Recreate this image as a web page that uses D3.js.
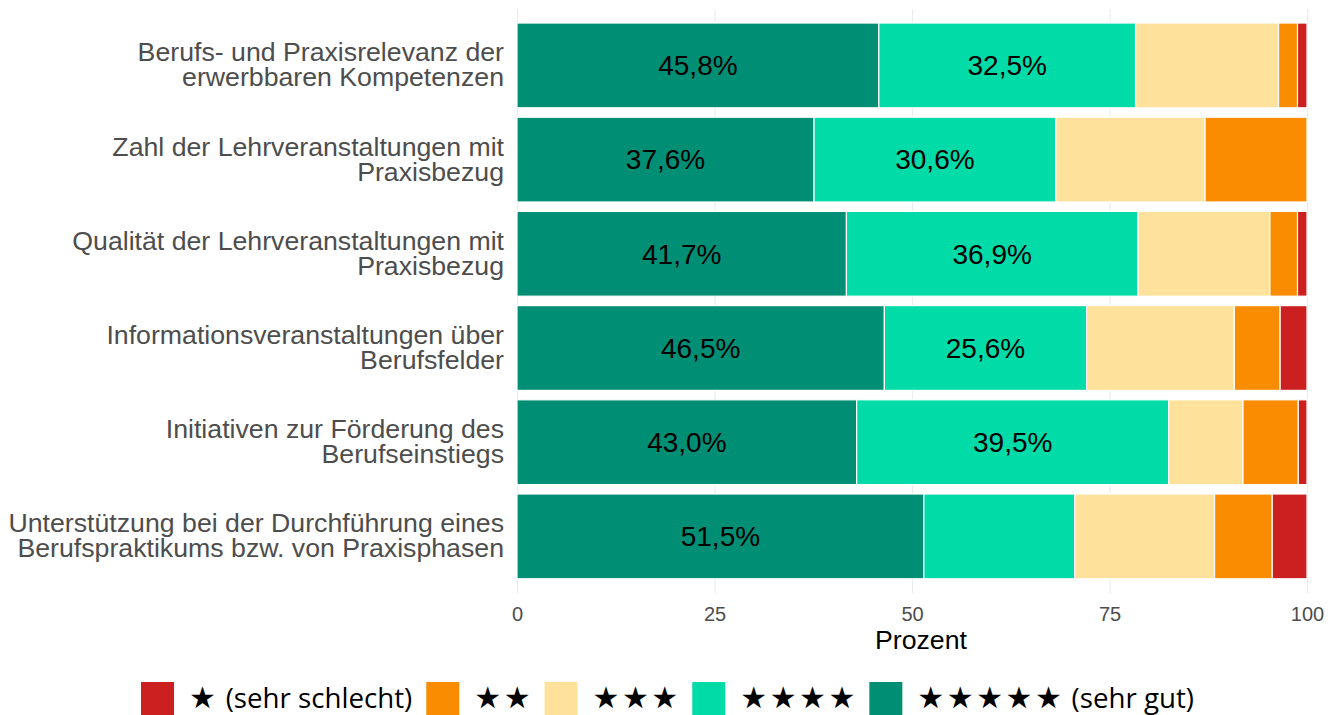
<!DOCTYPE html>
<html>
<head>
<meta charset="utf-8">
<script src="https://cdn.jsdelivr.net/npm/d3@7"></script>
<style>
  body { margin: 0; background: #fff; }
  svg { display: block; }
</style>
</head>
<body>
<div id="chart"></div>
<script>
// ---- data ----
const categories = [
  ['Berufs- und Praxisrelevanz der', 'erwerbbaren Kompetenzen'],
  ['Zahl der Lehrveranstaltungen mit', 'Praxisbezug'],
  ['Qualität der Lehrveranstaltungen mit', 'Praxisbezug'],
  ['Informationsveranstaltungen über', 'Berufsfelder'],
  ['Initiativen zur Förderung des', 'Berufseinstiegs'],
  ['Unterstützung bei der Durchführung eines', 'Berufspraktikums bzw. von Praxisphasen']
];
const star5 = [45.8, 37.6, 41.7, 46.5, 43.0, 51.5];
const star4 = [32.5, 30.6, 36.9, 25.6, 39.5, 19.1];
const star3 = [18.1, 18.9, 16.7, 18.7, 9.4, 17.7];
const star2 = [2.4, 12.9, 3.5, 5.8, 7.0, 7.3];
const star1 = [1.2, 0.0, 1.2, 3.4, 1.1, 4.4];
const xTicks = [0, 25, 50, 75, 100];
const legendStars = ['★', '★★', '★★★', '★★★★', '★★★★★'];
const legendNotes = [' (sehr schlecht)', '', '', '', ' (sehr gut)'];
const seriesColors = ['#cc1f1f', '#f98c00', '#fee29b', '#00dba8', '#008f74'];

// ---- layout ----
const W = 1328, H = 715;
const plot = { left: 517, right: 1307, top: 8.9, bottom: 592.9 };
const labelFont = 'Liberation Sans, Arial, sans-serif';

const svg = d3.select('#chart').append('svg')
  .attr('width', W).attr('height', H);

const keys = categories.map((c, i) => i);
// segments stacked from left: 5 stars, 4, 3, 2, 1
const stackSeries = [star5, star4, star3, star2, star1];
const stackColors = [seriesColors[4], seriesColors[3], seriesColors[2], seriesColors[1], seriesColors[0]];

const x = d3.scaleLinear().domain([0, 100]).range([plot.left, plot.right]);
const y = d3.scaleBand().domain(keys)
  .range([plot.top, plot.bottom])
  .paddingInner(0.1).paddingOuter(0.15);

// ---- grid lines ----
svg.append('g')
  .attr('transform', `translate(0, ${plot.top})`)
  .call(d3.axisBottom(x).tickValues(xTicks).tickSize(plot.bottom - plot.top).tickFormat(''))
  .call(g => g.select('.domain').remove())
  .call(g => g.selectAll('line').attr('stroke', '#ebebeb').attr('stroke-width', 1.1));

// ---- bars ----
const rows = keys.map(i => {
  let acc = 0;
  return stackSeries.map((s, k) => {
    const seg = { row: i, k, x0: acc, x1: acc + s[i], v: s[i] };
    acc += s[i];
    return seg;
  });
});
const segs = rows.flat().filter(d => d.v > 0);

svg.append('g').selectAll('rect').data(segs).join('rect')
  .attr('x', d => x(d.x0))
  .attr('y', d => y(d.row))
  .attr('width', d => x(d.x1) - x(d.x0))
  .attr('height', y.bandwidth())
  .attr('fill', d => stackColors[d.k])
  .attr('stroke', '#fff')
  .attr('stroke-width', 1.2);

// ---- value labels (only large segments) ----
const fmt = v => d3.format('.1f')(v).replace('.', ',') + '%';
svg.append('g').selectAll('text').data(segs.filter(d => d.v >= 20)).join('text')
  .attr('x', d => x((d.x0 + d.x1) / 2))
  .attr('y', d => y(d.row) + y.bandwidth() / 2)
  .attr('dy', '0.35em')
  .attr('text-anchor', 'middle')
  .style('font-family', labelFont)
  .style('font-size', '28px')
  .style('fill', '#000')
  .text(d => fmt(d.v));

// ---- category labels ----
const lineGap = 25;
const catG = svg.append('g');
categories.forEach((lines, i) => {
  const cy = y(i) + y.bandwidth() / 2;
  const t = catG.append('text')
    .attr('text-anchor', 'end')
    .style('font-family', labelFont)
    .style('font-size', '26.7px')
    .style('fill', '#4d4d4d');
  lines.forEach((ln, j) => {
    t.append('tspan')
      .attr('x', 504)
      .attr('y', cy - 4 + j * lineGap)
      .text(ln);
  });
});

// ---- x axis labels ----
svg.append('g')
  .attr('transform', `translate(0, ${plot.bottom})`)
  .call(d3.axisBottom(x).tickValues(xTicks).tickSize(0).tickPadding(14))
  .call(g => g.select('.domain').remove())
  .call(g => g.selectAll('text')
    .style('font-family', labelFont)
    .style('font-size', '20px')
    .style('fill', '#4d4d4d'));

svg.append('text')
  .attr('x', 921)
  .attr('y', 649)
  .attr('text-anchor', 'middle')
  .style('font-family', labelFont)
  .style('font-size', '26.7px')
  .style('fill', '#000')
  .text('Prozent');

// ---- legend ----
const keySize = 33, keyGap = 15, itemGap = 14, starSpace = 2.5;
const legend = svg.append('g');
const items = legendStars.map((stars, i) => {
  const g = legend.append('g');
  g.append('rect')
    .attr('width', keySize).attr('height', keySize)
    .attr('y', 682)
    .attr('fill', seriesColors[i]);
  const t = g.append('text')
    .attr('x', keySize + keyGap)
    .attr('y', 698.5)
    .attr('dy', '0.35em')
    .attr('xml:space', 'preserve')
    .style('white-space', 'pre')
    .style('font-family', 'Open Sans, Noto Sans, sans-serif')
    .style('font-size', '27.7px')
    .style('fill', '#000');
  t.append('tspan')
    .style('font-family', 'DejaVu Sans, sans-serif')
    .style('font-size', '30px')
    .style('letter-spacing', starSpace + 'px')
    .text(stars);
  if (legendNotes[i]) t.append('tspan').text(legendNotes[i]);
  const tw = t.node().getComputedTextLength() - (legendNotes[i] ? 0 : starSpace);
  return { g, w: keySize + keyGap + tw };
});
const totalW = d3.sum(items, d => d.w) + itemGap * (items.length - 1);
let cx = 667.5 - totalW / 2;
items.forEach(it => {
  it.g.attr('transform', `translate(${cx}, 0)`);
  cx += it.w + itemGap;
});
</script>
</body>
</html>
